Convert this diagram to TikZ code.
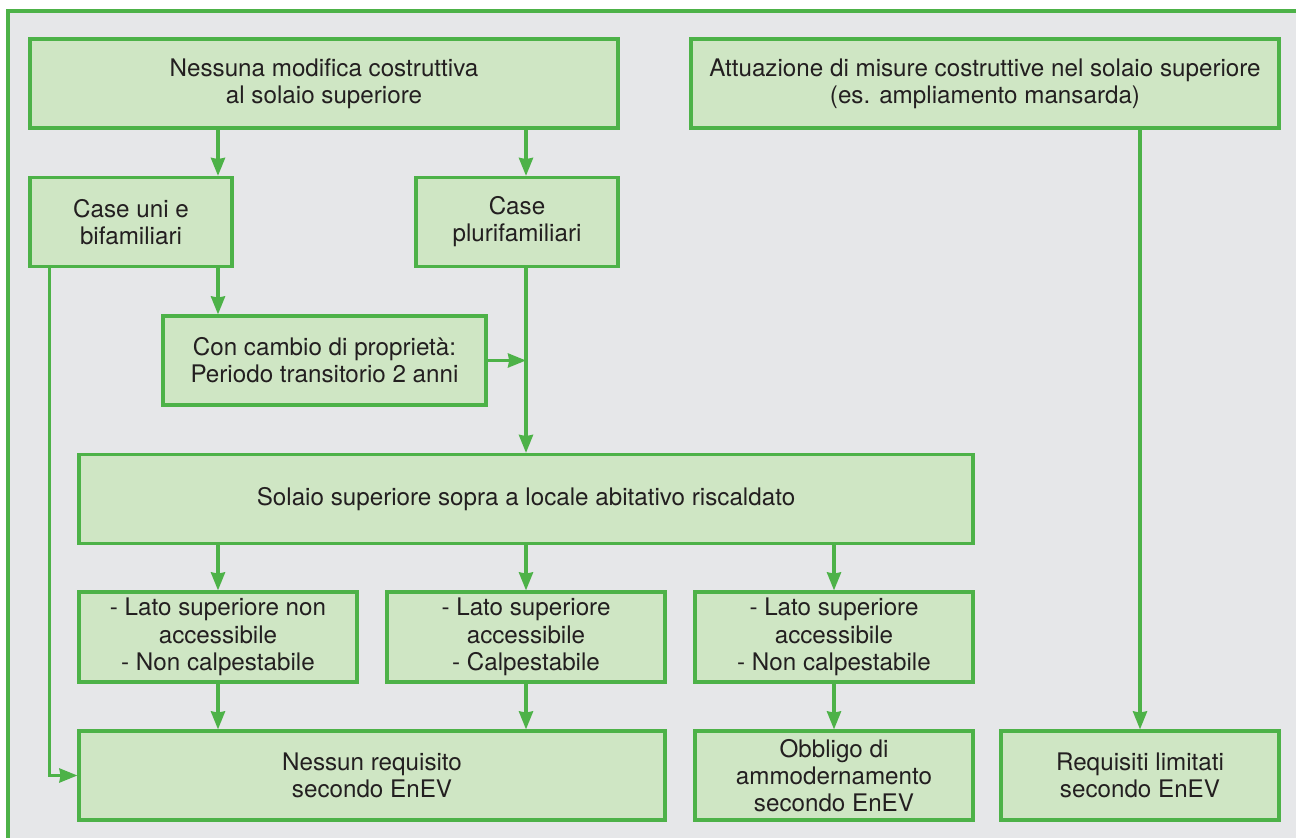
\documentclass[tikz,border=0pt]{standalone}
\usepackage{fontspec}
\setmainfont{TeX Gyre Heros}
\usepackage{tikz}
\usetikzlibrary{arrows.meta,positioning,calc}
\definecolor{framegreen}{RGB}{77,178,72}
\definecolor{boxfill}{RGB}{207,230,196}
\definecolor{bggray}{RGB}{230,231,233}
\definecolor{txt}{RGB}{35,31,32}
\begin{document}
\begin{tikzpicture}[->,>={Stealth[length=9pt,width=7pt,inset=0.6pt]},x=0.5pt,y=-0.5pt,
 line width=1.6pt, draw=framegreen, color=framegreen,
 box/.style={draw=framegreen, fill=boxfill, line width=1.6pt, inner sep=0pt,
  align=center, text=txt, font=\fontsize{12.1}{13.6}\selectfont,
  minimum height=44.5pt}]
\useasboundingbox (0,0) rectangle (1296,838);
% background and frame
\fill[bggray] (8,11) rectangle (1296,838);
\draw[-, line width=1.8pt] (8,838) -- (8,11) -- (1296,11);
% top row
\node[box, minimum width=294pt] (nomod) at (324, 83.5) {Nessuna modifica costruttiva\\al solaio superiore};
\node[box, minimum width=294pt] (misure) at (985, 83.5) {Attuazione di misure costruttive nel solaio superiore\\(es. ampliamento mansarda)};
\node[box, minimum width=101pt] (unibi) at (131, 222) {Case uni e\\bifamiliari};
\node[box, minimum width=101pt] (pluri) at (517, 222) {Case\\plurifamiliari};
\node[box, minimum width=161.5pt] (cambio) at (324.5, 360.5) {Con cambio di proprietà:\\Periodo transitorio 2 anni};
\node[box, minimum width=447pt] (solaio) at (526, 499) {Solaio superiore sopra a locale abitativo riscaldato};
% cases
\node[box, minimum width=139pt, minimum height=45pt] (nonacc) at (218, 637) {- Lato superiore non\\accessibile\\- Non calpestabile};
\node[box, minimum width=139pt, minimum height=45pt] (calp) at (526, 637) {- Lato superiore\\accessibile\\- Calpestabile};
\node[box, minimum width=139pt, minimum height=45pt] (noncalp) at (834, 637) {- Lato superiore\\accessibile\\- Non calpestabile};
% results
\node[box, minimum width=293pt] (nessun) at (372, 775.5) {Nessun requisito\\secondo EnEV};
\node[box, minimum width=139pt] (obbligo) at (834, 775.5) {Obbligo di\\ammodernamento\\secondo EnEV};
\node[box, minimum width=139pt] (limitati) at (1140, 775.5) {Requisiti limitati\\secondo EnEV};
% connectors
\draw (nomod.south -| nonacc) -- (unibi.north -| nonacc);
\draw (nomod.south -| solaio) -- (pluri.north -| solaio);
\draw (unibi.south -| nonacc) -- (cambio.north -| nonacc);
\draw (pluri.south -| solaio) -- (solaio.north);
\draw (cambio.east) -- (cambio.east -| solaio.north);
\draw (unibi.south west) ++(21,0) |- (nessun.west);
\draw (solaio.south -| nonacc) -- (nonacc.north);
\draw (solaio.south -| calp) -- (calp.north);
\draw (solaio.south -| noncalp) -- (noncalp.north);
\draw (nonacc.south) -- (nonacc.south |- nessun.north);
\draw (calp.south) -- (calp.south |- nessun.north);
\draw (noncalp.south) -- (obbligo.north);
\draw (misure.south -| limitati) -- (limitati.north);
\end{tikzpicture}
\end{document}
